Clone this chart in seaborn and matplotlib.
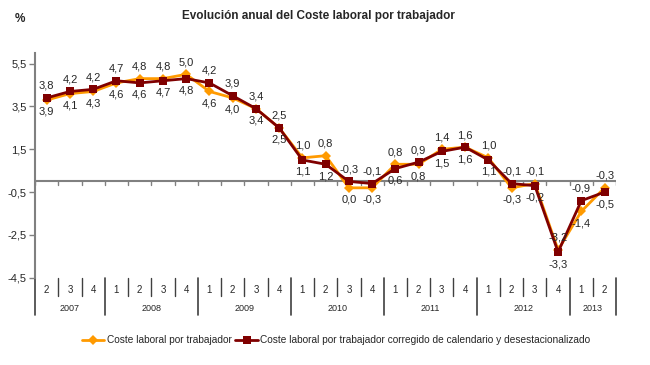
import matplotlib
matplotlib.use("Agg")
import matplotlib.pyplot as plt
import matplotlib.transforms as mtransforms
import numpy as np
import pandas as pd
import seaborn as sns

# Data (tasa de variación anual, %)
trimestres = ['2', '3', '4',
              '1', '2', '3', '4',
              '1', '2', '3', '4',
              '1', '2', '3', '4',
              '1', '2', '3', '4',
              '1', '2', '3', '4',
              '1', '2']
anios = ['2007', '2008', '2009', '2010', '2011', '2012', '2013']
trim_por_anio = [3, 4, 4, 4, 4, 4, 2]

coste = [3.8, 4.1, 4.2, 4.6, 4.8, 4.8, 5.0, 4.2, 3.9, 3.4, 2.5, 1.1, 1.2,
         -0.3, -0.3, 0.8, 0.8, 1.5, 1.6, 1.1, -0.3, -0.1, -3.2, -1.4, -0.3]
corregido = [3.9, 4.2, 4.3, 4.7, 4.6, 4.7, 4.8, 4.6, 4.0, 3.4, 2.5, 1.0, 0.8,
             0.0, -0.1, 0.6, 0.9, 1.4, 1.6, 1.0, -0.1, -0.2, -3.3, -0.9, -0.5]

etiquetas_arriba = ['3,8', '4,2', '4,2', '4,7', '4,8', '4,8', '5,0', '4,2', '3,9',
                    '3,4', '2,5', '1,0', '0,8', '-0,3', '-0,1', '0,8', '0,9', '1,4',
                    '1,6', '1,0', '-0,1', '-0,1', '-3,2', '-0,9', '-0,3']
etiquetas_abajo = ['3,9', '4,1', '4,3', '4,6', '4,6', '4,7', '4,8', '4,6', '4,0',
                   '3,4', '2,5', '1,1', '1,2', '0,0', '-0,3', '0,6', '0,8', '1,5',
                   '1,6', '1,1', '-0,3', '-0,2', '-3,3', '-1,4', '-0,5']

yticks = [-4.5, -2.5, -0.5, 1.5, 3.5, 5.5]

serie1 = 'Coste laboral por trabajador'
serie2 = 'Coste laboral por trabajador corregido de calendario y desestacionalizado'

n = len(trimestres)
df = pd.DataFrame({'pos': np.arange(n), serie1: coste, serie2: corregido})
df_long = df.melt(id_vars='pos', var_name='serie', value_name='valor')

sns.set_style('white')
plt.rcParams['font.family'] = ['Liberation Sans', 'DejaVu Sans']

fig = plt.figure(figsize=(6.5, 3.65), dpi=100)
ax = fig.add_axes([0.054, 0.239, 0.894, 0.616])

sns.lineplot(data=df_long, x='pos', y='valor', hue='serie', style='serie',
             hue_order=[serie1, serie2], style_order=[serie1, serie2],
             palette={serie1: '#FF9A00', serie2: '#800000'},
             markers={serie1: 'D', serie2: 's'}, dashes=False,
             markersize=5.5, markeredgewidth=0, linewidth=2, ax=ax)

ax.set_xlim(-0.5, n - 0.5)
ax.set_ylim(-4.5, 6.0)
ax.set_yticks(yticks)
ax.set_yticklabels([f'{v:.1f}'.replace('.', ',') for v in yticks], fontsize=8)
ax.set_xticks([])
ax.set_xlabel('')
ax.set_ylabel('')
for s in ['top', 'right', 'bottom']:
    ax.spines[s].set_visible(False)
ax.spines['left'].set_color('#808080')
ax.spines['left'].set_linewidth(1.5)
ax.tick_params(axis='y', left=True, length=4, width=1, color='#808080', pad=2)

# horizontal axis at 0 with boundary ticks
ax.axhline(0, color='#808080', lw=1.5, zorder=1)
for b in np.arange(n + 1) - 0.5:
    ax.plot([b, b], [0, -0.18], color='#808080', lw=1, zorder=1)

# data labels
for i in range(n):
    hi = max(coste[i], corregido[i])
    lo = min(coste[i], corregido[i])
    ax.annotate(etiquetas_arriba[i], (i, hi), xytext=(0, 5), textcoords='offset points',
                ha='center', va='bottom', fontsize=8)
    ax.annotate(etiquetas_abajo[i], (i, lo), xytext=(0, -5), textcoords='offset points',
                ha='center', va='top', fontsize=8)

# two-level category axis under the plot
trans = mtransforms.blended_transform_factory(ax.transData, ax.transAxes)
limites = np.cumsum([0] + trim_por_anio) - 0.5
for b in np.arange(n + 1) - 0.5:
    if b in limites:
        ax.plot([b, b], [0, -0.165], color='#404040', lw=1.2, transform=trans, clip_on=False)
    else:
        ax.plot([b, b], [0, -0.08], color='#404040', lw=1.0, transform=trans, clip_on=False)
for i, q in enumerate(trimestres):
    ax.text(i, -0.055, q, transform=trans, ha='center', va='center', fontsize=7)
for k, a in enumerate(anios):
    centro = (limites[k] + limites[k + 1]) / 2
    ax.text(centro, -0.135, a, transform=trans, ha='center', va='center', fontsize=6.5)

sns.move_legend(ax, 'center', bbox_to_anchor=(0.517, 0.068), bbox_transform=fig.transFigure,
                ncol=2, title=None, frameon=False, fontsize=7.3, handlelength=2.2,
                handletextpad=0.2, columnspacing=0.4)

fig.text(0.49, 0.955, 'Evolución anual del Coste laboral por trabajador',
         ha='center', va='center', fontsize=8.5, fontweight='bold')
fig.text(0.022, 0.948, '%', ha='left', va='center', fontsize=8.5, fontweight='bold')

fig.savefig('out.png', dpi=100)
